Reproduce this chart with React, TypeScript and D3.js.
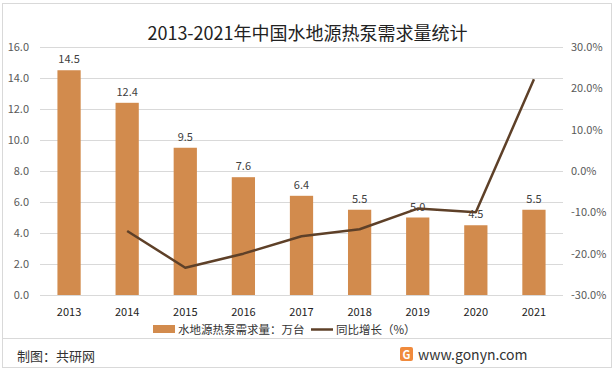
import * as d3 from 'd3';

const WIDTH = 615;
const HEIGHT = 371;
const MARGIN = { top: 47, right: 52, bottom: 76, left: 40 };

const years = ['2013', '2014', '2015', '2016', '2017', '2018', '2019', '2020', '2021'];
const demand = [14.5, 12.4, 9.5, 7.6, 6.4, 5.5, 5.0, 4.5, 5.5];
const growth = [null, -14.5, -23.4, -20.0, -15.8, -14.1, -9.1, -10.0, 22.2];
const leftTicks = [0, 2, 4, 6, 8, 10, 12, 14, 16];
const rightTicks = [-30, -20, -10, 0, 10, 20, 30];

const FONT = '"Noto Sans CJK SC", "Noto Sans", sans-serif';
const BAR = '#d28b4d';
const LINE = '#5e4028';

function App() {
  const x = d3.scaleBand()
    .domain(years)
    .range([MARGIN.left, WIDTH - MARGIN.right])
    .paddingInner(0.6)
    .paddingOuter(0.3);
  const y = d3.scaleLinear().domain([0, 16]).range([HEIGHT - MARGIN.bottom, MARGIN.top]);
  const y2 = d3.scaleLinear().domain([-30, 30]).range([HEIGHT - MARGIN.bottom, MARGIN.top]);

  const pts = years
    .map((yr, i) => ({ yr, v: growth[i] }))
    .filter((d) => d.v !== null) as { yr: string; v: number }[];
  const line = d3.line<{ yr: string; v: number }>()
    .x((d) => (x(d.yr) || 0) + x.bandwidth() / 2)
    .y((d) => y2(d.v));

  return (
    <svg width={WIDTH} height={HEIGHT} style={{ position: 'absolute', left: 0, top: 0 }} fontFamily={FONT}>
      <rect x={0} y={0} width={WIDTH} height={HEIGHT} fill="#fff" />
      <rect x={2.5} y={3.5} width={609} height={364} fill="none" stroke="#d9d9d9" />
      <line x1={2} x2={612} y1={338.5} y2={338.5} stroke="#d9d9d9" />

      <text x={WIDTH / 2} y={40} textAnchor="middle" fontSize={18} fill="#222">
        2013-2021年中国水地源热泵需求量统计
      </text>

      {leftTicks.map((t) => (
        <g key={t}>
          <line x1={MARGIN.left} x2={WIDTH - MARGIN.right} y1={y(t) + 0.5} y2={y(t) + 0.5} stroke="#d9d9d9" />
          <text x={29} y={y(t) + 4} textAnchor="end" fontSize={11} fill="#595959">{t.toFixed(1)}</text>
        </g>
      ))}
      {rightTicks.map((t) => (
        <text key={t} x={571} y={y2(t) + 4} fontSize={11} fill="#595959">{t.toFixed(1)}%</text>
      ))}

      {years.map((yr, i) => (
        <g key={yr}>
          <rect
            x={x(yr)}
            y={y(demand[i])}
            width={x.bandwidth()}
            height={y(0) - y(demand[i])}
            fill={BAR}
          />
          <text x={(x(yr) || 0) + x.bandwidth() / 2} y={y(demand[i]) - 7} textAnchor="middle" fontSize={11} fill="#404040">
            {demand[i].toFixed(1)}
          </text>
          <text x={(x(yr) || 0) + x.bandwidth() / 2} y={316} textAnchor="middle" fontSize={11} fill="#222">
            {yr}
          </text>
        </g>
      ))}

      <path d={line(pts) || ''} fill="none" stroke={LINE} strokeWidth={2.5} strokeLinejoin="round" />

      <rect x={153} y={325} width={22} height={8} fill={BAR} />
      <text x={178} y={333.5} fontSize={11.5} fill="#333">水地源热泵需求量：万台</text>
      <line x1={311} x2={333} y1={329.5} y2={329.5} stroke={LINE} strokeWidth={2.5} />
      <text x={336} y={333.5} fontSize={11.5} fill="#333">同比增长（%）</text>

      <text x={17} y={361} fontSize={13} fill="#333">制图：共研网</text>
      <g transform="translate(400,347)">
        <rect x={0} y={0} width={13} height={14} rx={2} fill="#f08a3c" />
        <text x={6.5} y={11.5} textAnchor="middle" fontSize={11} fontWeight="bold" fill="#fff">G</text>
      </g>
      <text x={418} y={360} fontSize={14} fill="#333">www.gonyn.com</text>
    </svg>
  );
}

export default App;
